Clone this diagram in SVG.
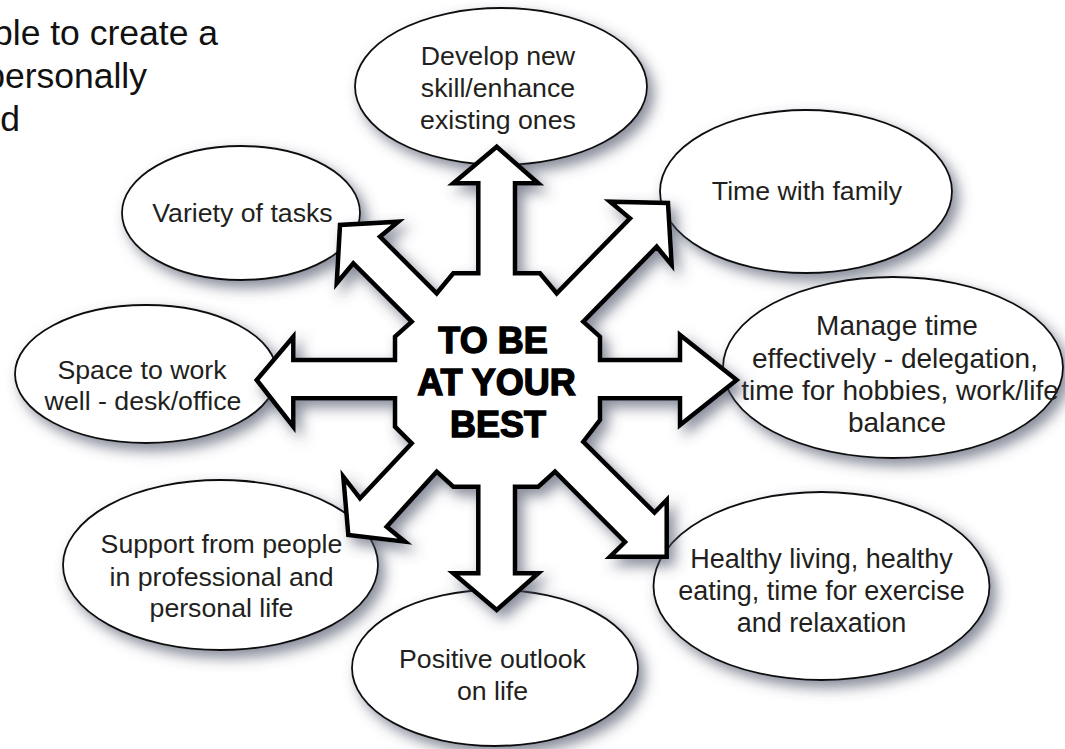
<svg xmlns="http://www.w3.org/2000/svg" width="1065" height="749" viewBox="0 0 1065 749">
<defs>
<filter id="sh" x="-20%" y="-20%" width="150%" height="150%">
<feGaussianBlur in="SourceAlpha" stdDeviation="7"/>
<feOffset dx="6" dy="7" result="b"/>
<feFlood flood-color="#474d62" flood-opacity="0.65"/>
<feComposite in2="b" operator="in"/>
<feMerge><feMergeNode/><feMergeNode in="SourceGraphic"/></feMerge>
</filter>
</defs>
<style>
.bub{fill:#fff;stroke:#111;stroke-width:1.8;filter:url(#sh)}
.lbl{font-family:"Liberation Sans",Arial,Helvetica,sans-serif;font-size:26.7px;fill:#231f20;text-anchor:middle}
.top{font-family:"Liberation Sans",Arial,Helvetica,sans-serif;font-size:35.5px;fill:#111;text-anchor:end}
.ctr{font-family:"Liberation Sans",Arial,Helvetica,sans-serif;font-size:36px;font-weight:bold;fill:#000;stroke:#000;stroke-width:1.4;text-anchor:middle}
.star{fill:#fff;stroke:#000;stroke-width:4.5;stroke-linejoin:miter;filter:url(#sh)}
</style>
<rect width="1065" height="749" fill="#fff"/>
<g id="intro">
<text class="top" x="218" y="45">ble to create a</text>
<text class="top" x="147" y="88">personally</text>
<text class="top" x="20" y="131">d</text>
</g>
<g id="node-develop">
<ellipse class="bub" cx="501" cy="86.5" rx="146" ry="78.5"/>
<text class="lbl" x="498" y="65">Develop new</text>
<text class="lbl" x="498" y="97">skill/enhance</text>
<text class="lbl" x="498" y="129">existing ones</text>
</g>
<g id="node-family">
<ellipse class="bub" cx="806" cy="191.5" rx="146" ry="81.5"/>
<text class="lbl" x="807" y="200">Time with family</text>
</g>
<g id="node-variety">
<ellipse class="bub" cx="241" cy="213" rx="119" ry="67"/>
<text class="lbl" x="242.5" y="222">Variety of tasks</text>
</g>
<g id="node-space">
<ellipse class="bub" cx="146" cy="374" rx="131" ry="69"/>
<text class="lbl" x="142" y="379">Space to work</text>
<text class="lbl" x="143" y="410">well - desk/office</text>
</g>
<g id="node-manage">
<ellipse class="bub" cx="893" cy="367.5" rx="170" ry="90.5"/>
<text class="lbl" style="font-size:28px" x="897" y="335">Manage time</text>
<text class="lbl" style="font-size:28px" x="895" y="368">effectively - delegation,</text>
<text class="lbl" style="font-size:28px" x="900" y="400">time for hobbies, work/life</text>
<text class="lbl" style="font-size:28px" x="897" y="432">balance</text>
</g>
<g id="node-support">
<ellipse class="bub" cx="220.5" cy="565" rx="157.5" ry="85"/>
<text class="lbl" x="221.5" y="553">Support from people</text>
<text class="lbl" x="221.5" y="586">in professional and</text>
<text class="lbl" x="221.5" y="617">personal life</text>
</g>
<g id="node-healthy">
<ellipse class="bub" cx="821.5" cy="586" rx="168" ry="94"/>
<text class="lbl" style="font-size:27px" x="821.5" y="568">Healthy living, healthy</text>
<text class="lbl" style="font-size:27px" x="821.5" y="600">eating, time for exercise</text>
<text class="lbl" style="font-size:27px" x="821.5" y="632">and relaxation</text>
</g>
<g id="node-positive">
<ellipse class="bub" cx="495" cy="668" rx="143" ry="78"/>
<text class="lbl" x="492.5" y="668">Positive outlook</text>
<text class="lbl" x="492.5" y="700">on life</text>
</g>
<g id="connectors">
<path class="star" d="M496.7,146.7 L538.3,183.3 L515,183.3 L515,273.3 L540,273.3 L556.7,293.3 L630,218.3 L610,201.7 L668,203 L671.7,265 L656.7,246.7 L583.3,321.7 L600,336.7 L600,360 L680,360 L680,335 L736.7,380 L680,425 L680,398.3 L600,398.3 L600,420 L583.3,441.7 L654.5,512.5 L666.7,500 L666.7,556.7 L610,556.7 L625,542 L555,471.7 L538.3,486.7 L515,486.7 L515,573.3 L538.3,573.3 L496.7,610 L453.3,573.3 L478.3,573.3 L478.3,486.7 L453.3,486.7 L436.7,471.7 L386.7,526.7 L405,541.7 L348.3,535 L343.3,476.7 L360,498.3 L411.7,443.3 L395,426.7 L395,398.3 L293.3,398.3 L293.3,426.7 L256.7,380 L293.3,336.7 L293.3,360 L395,360 L395,336.7 L411.7,321.7 L353.3,263.3 L336.7,283.3 L340,225 L398.3,221.7 L380,236.7 L436.7,293.3 L453.3,273.3 L478.3,273.3 L478.3,183.3 L453.3,183.3 Z"/>
</g>
<g id="node-center">
<text class="ctr" x="493" y="353">TO BE</text>
<text class="ctr" x="496.5" y="395">AT YOUR</text>
<text class="ctr" x="498" y="437">BEST</text>
</g>
</svg>
